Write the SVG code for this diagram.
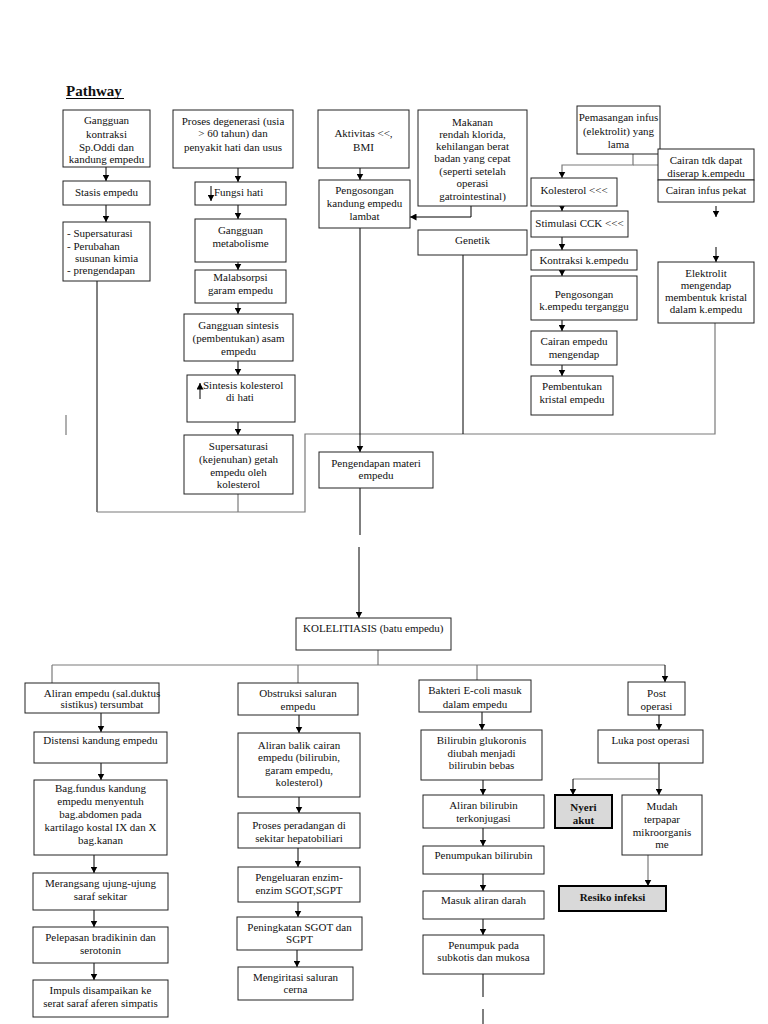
<svg xmlns="http://www.w3.org/2000/svg" width="768" height="1024" viewBox="0 0 768 1024">
<style>
  rect.b { fill: #fff; stroke: #222; stroke-width: 1; }
  rect.d { fill: #d9d9d9; stroke: #000; stroke-width: 2; }
  text { font-family: "Liberation Serif", "Times New Roman", serif; font-size: 11px; fill: #111; }
  text.c { text-anchor: middle; }
  text.bold { font-weight: bold; }
  .ln { fill: none; stroke: #000; stroke-width: 1; }
  .g { fill: none; stroke: #7a7a7a; stroke-width: 1.2; }
</style>
<defs>
  <marker id="ahs" markerUnits="userSpaceOnUse" markerWidth="7" markerHeight="7" refX="6.5" refY="3.5" orient="auto" viewBox="0 0 7 7">
    <path d="M0,0 L6.5,3.5 L0,7 Z" fill="#000"/>
  </marker>
</defs>
<rect width="768" height="1024" fill="#fff"/>

<g id="title">
  <text x="66" y="96" style="font-size:15px;font-weight:bold">Pathway</text>
  <line x1="66" y1="98.5" x2="124" y2="98.5" stroke="#000" stroke-width="1"/>
</g>

<g id="connectors">
  <line class="ln" x1="106" y1="167" x2="106" y2="181" marker-end="url(#ahs)"/>
  <line class="ln" x1="106" y1="205" x2="106" y2="222" marker-end="url(#ahs)"/>
  <path class="ln" d="M97,281 V512"/>
  <path class="g" d="M97,512 H305 V434 H715 V323"/>
  <line class="g" x1="238" y1="494" x2="238" y2="512"/>
  <line class="ln" x1="463" y1="255" x2="463" y2="434"/>
  <line class="g" x1="66" y1="415" x2="66" y2="435"/>
  <line class="ln" x1="238" y1="168" x2="238" y2="182" marker-end="url(#ahs)"/>
  <line class="ln" x1="238" y1="205" x2="238" y2="219" marker-end="url(#ahs)"/>
  <line class="ln" x1="238" y1="262" x2="238" y2="270" marker-end="url(#ahs)"/>
  <line class="ln" x1="238" y1="303" x2="238" y2="314" marker-end="url(#ahs)"/>
  <line class="ln" x1="238" y1="361" x2="238" y2="375" marker-end="url(#ahs)"/>
  <line class="ln" x1="238" y1="422" x2="238" y2="435" marker-end="url(#ahs)"/>
  <line class="ln" x1="360" y1="168" x2="360" y2="180" marker-end="url(#ahs)"/>
  <line class="ln" x1="360" y1="228" x2="360" y2="452" marker-end="url(#ahs)"/>
  <line class="ln" x1="360" y1="488" x2="360" y2="535"/>
  <line class="ln" x1="359" y1="547" x2="359" y2="618" marker-end="url(#ahs)"/>
  <path class="ln" d="M471,206 V217 H410" marker-end="url(#ahs)"/>
  <path class="g" d="M633,154 V165 H562 V178" marker-end="url(#ahs)"/>
  <path class="g" d="M633,165 H717 V177" marker-end="url(#ahs)"/>
  <line class="ln" x1="716" y1="206" x2="716" y2="217" marker-end="url(#ahs)"/>
  <line class="ln" x1="716" y1="247" x2="716" y2="262" marker-end="url(#ahs)"/>
  <line class="ln" x1="562" y1="206" x2="562" y2="211" marker-end="url(#ahs)"/>
  <line class="ln" x1="562" y1="237" x2="562" y2="250" marker-end="url(#ahs)"/>
  <line class="ln" x1="562" y1="270" x2="562" y2="276" marker-end="url(#ahs)"/>
  <line class="ln" x1="562" y1="320" x2="562" y2="331" marker-end="url(#ahs)"/>
  <line class="ln" x1="562" y1="365" x2="562" y2="376" marker-end="url(#ahs)"/>
  <line class="g" x1="378" y1="650" x2="378" y2="665"/>
  <path class="g" d="M52,665 H665"/>
  <line class="ln" x1="665" y1="665" x2="665" y2="682" marker-end="url(#ahs)"/>
  <line class="g" x1="52" y1="665" x2="52" y2="683"/>
  <line class="g" x1="298" y1="665" x2="298" y2="683"/>
  <line class="g" x1="477" y1="665" x2="477" y2="680"/>
  <line class="ln" x1="101" y1="713" x2="101" y2="732" marker-end="url(#ahs)"/>
  <line class="ln" x1="101" y1="763" x2="101" y2="780" marker-end="url(#ahs)"/>
  <line class="ln" x1="94" y1="855" x2="94" y2="873" marker-end="url(#ahs)"/>
  <line class="ln" x1="94" y1="910" x2="94" y2="927" marker-end="url(#ahs)"/>
  <line class="ln" x1="94" y1="963" x2="94" y2="980" marker-end="url(#ahs)"/>
  <line class="ln" x1="299" y1="715" x2="299" y2="733" marker-end="url(#ahs)"/>
  <line class="ln" x1="299" y1="797" x2="299" y2="813" marker-end="url(#ahs)"/>
  <line class="ln" x1="298" y1="848" x2="298" y2="867" marker-end="url(#ahs)"/>
  <line class="ln" x1="298" y1="902" x2="298" y2="917" marker-end="url(#ahs)"/>
  <line class="ln" x1="297" y1="950" x2="297" y2="967" marker-end="url(#ahs)"/>
  <line class="ln" x1="482" y1="712" x2="482" y2="730" marker-end="url(#ahs)"/>
  <line class="ln" x1="483" y1="780" x2="483" y2="795" marker-end="url(#ahs)"/>
  <line class="ln" x1="483" y1="828" x2="483" y2="846" marker-end="url(#ahs)"/>
  <line class="ln" x1="483" y1="874" x2="483" y2="891" marker-end="url(#ahs)"/>
  <line class="ln" x1="483" y1="919" x2="483" y2="935" marker-end="url(#ahs)"/>
  <line class="ln" x1="483" y1="974" x2="483" y2="997"/>
  <line class="ln" x1="483" y1="1009" x2="483" y2="1024"/>
  <line class="ln" x1="659" y1="715" x2="659" y2="730" marker-end="url(#ahs)"/>
  <line class="ln" x1="659" y1="763" x2="659" y2="795" marker-end="url(#ahs)"/>
  <path class="g" d="M659,779 H573"/>
  <line class="ln" x1="573" y1="779" x2="573" y2="795" marker-end="url(#ahs)"/>
  <line class="g" x1="648" y1="855" x2="648" y2="886" marker-end="url(#ahs)"/>
</g>

<g id="n-gangguan-kontraksi">
  <rect class="b" x="63" y="110" width="87" height="57"/>
  <text class="c"><tspan x="106.5" y="124">Gangguan</tspan><tspan x="106.5" y="138">kontraksi</tspan><tspan x="106.5" y="151">Sp.Oddi dan</tspan><tspan x="106.5" y="163">kandung empedu</tspan></text>
</g>
<g id="n-stasis">
  <rect class="b" x="63" y="181" width="87" height="24"/>
  <text class="c" x="106.5" y="196">Stasis empedu</text>
</g>
<g id="n-supersaturasi-list">
  <rect class="b" x="63" y="222" width="87" height="59"/>
  <text><tspan x="67" y="237">- Supersaturasi</tspan><tspan x="67" y="250">- Perubahan</tspan><tspan x="75" y="262">susunan kimia</tspan><tspan x="67" y="274">- prengendapan</tspan></text>
</g>

<g id="n-proses-degenerasi">
  <rect class="b" x="173" y="110" width="120" height="58"/>
  <text class="c"><tspan x="233" y="125">Proses degenerasi (usia</tspan><tspan x="233" y="137">&gt; 60 tahun) dan</tspan><tspan x="233" y="151">penyakit hati dan usus</tspan></text>
</g>
<g id="n-fungsi-hati">
  <rect class="b" x="195" y="182" width="91" height="23"/>
  <line class="ln" x1="211" y1="186" x2="211" y2="201" marker-end="url(#ahs)"/>
  <text x="214" y="196">Fungsi hati</text>
</g>
<g id="n-gangguan-metabolisme">
  <rect class="b" x="195" y="219" width="91" height="43"/>
  <text class="c"><tspan x="240.5" y="234">Gangguan</tspan><tspan x="240.5" y="247">metabolisme</tspan></text>
</g>
<g id="n-malabsorpsi">
  <rect class="b" x="195" y="270" width="91" height="33"/>
  <text class="c"><tspan x="240.5" y="281">Malabsorpsi</tspan><tspan x="240.5" y="294">garam empedu</tspan></text>
</g>
<g id="n-gangguan-sintesis">
  <rect class="b" x="184" y="314" width="109" height="47"/>
  <text class="c"><tspan x="238.5" y="329">Gangguan sintesis</tspan><tspan x="238.5" y="342">(pembentukan) asam</tspan><tspan x="238.5" y="355">empedu</tspan></text>
</g>
<g id="n-sintesis-kolesterol">
  <rect class="b" x="187" y="375" width="108" height="47"/>
  <line class="ln" x1="200" y1="399" x2="200" y2="383" marker-end="url(#ahs)"/>
  <text x="203" y="389">Sintesis kolesterol</text>
  <text class="c" x="240" y="401">di hati</text>
</g>
<g id="n-supersaturasi-kejenuhan">
  <rect class="b" x="184" y="435" width="109" height="59"/>
  <text class="c"><tspan x="238.5" y="450">Supersaturasi</tspan><tspan x="238.5" y="463">(kejenuhan) getah</tspan><tspan x="238.5" y="476">empedu oleh</tspan><tspan x="238.5" y="488">kolesterol</tspan></text>
</g>

<g id="n-aktivitas">
  <rect class="b" x="318" y="110" width="91" height="58"/>
  <text class="c"><tspan x="363.5" y="137">Aktivitas &lt;&lt;,</tspan><tspan x="363.5" y="151">BMI</tspan></text>
</g>
<g id="n-pengosongan-lambat">
  <rect class="b" x="319" y="180" width="91" height="48"/>
  <text class="c"><tspan x="364.5" y="194">Pengosongan</tspan><tspan x="364.5" y="207">kandung empedu</tspan><tspan x="364.5" y="220">lambat</tspan></text>
</g>
<g id="n-makanan">
  <rect class="b" x="418" y="110" width="109" height="96"/>
  <text class="c"><tspan x="472.5" y="126">Makanan</tspan><tspan x="472.5" y="138">rendah klorida,</tspan><tspan x="472.5" y="150">kehilangan berat</tspan><tspan x="472.5" y="162">badan yang cepat</tspan><tspan x="472.5" y="175">(seperti setelah</tspan><tspan x="472.5" y="187">operasi</tspan><tspan x="472.5" y="200">gatrointestinal)</tspan></text>
</g>
<g id="n-genetik">
  <rect class="b" x="418" y="230" width="109" height="25"/>
  <text class="c" x="472.5" y="244">Genetik</text>
</g>
<g id="n-pengendapan-materi">
  <rect class="b" x="319" y="452" width="114" height="36"/>
  <text class="c"><tspan x="376" y="467">Pengendapan materi</tspan><tspan x="376" y="479">empedu</tspan></text>
</g>

<g id="n-pemasangan-infus">
  <rect class="b" x="577" y="106" width="83" height="48"/>
  <text class="c"><tspan x="618.5" y="121">Pemasangan infus</tspan><tspan x="618.5" y="135">(elektrolit) yang</tspan><tspan x="618.5" y="148">lama</tspan></text>
</g>
<g id="n-cairan-tdk-dapat">
  <rect class="b" x="658" y="149" width="96" height="31"/>
  <text class="c"><tspan x="706" y="164">Cairan tdk dapat</tspan><tspan x="706" y="177">diserap k.empedu</tspan></text>
</g>
<g id="n-cairan-infus-pekat">
  <rect class="b" x="658" y="180" width="96" height="22"/>
  <text class="c" x="706" y="194">Cairan infus pekat</text>
</g>
<g id="n-elektrolit">
  <rect class="b" x="658" y="262" width="96" height="61"/>
  <text class="c"><tspan x="706" y="277">Elektrolit</tspan><tspan x="706" y="289">mengendap</tspan><tspan x="706" y="301">membentuk kristal</tspan><tspan x="706" y="313">dalam k.empedu</tspan></text>
</g>

<g id="n-kolesterol">
  <rect class="b" x="531" y="178" width="86" height="28"/>
  <text class="c" x="574" y="194">Kolesterol &lt;&lt;&lt;</text>
</g>
<g id="n-stimulasi-cck">
  <rect class="b" x="531" y="211" width="97" height="26"/>
  <text class="c" x="579.5" y="227">Stimulasi CCK &lt;&lt;&lt;</text>
</g>
<g id="n-kontraksi">
  <rect class="b" x="531" y="250" width="106" height="20"/>
  <text class="c" x="584" y="264">Kontraksi k.empedu</text>
</g>
<g id="n-pengosongan-terganggu">
  <rect class="b" x="531" y="276" width="106" height="44"/>
  <text class="c"><tspan x="584" y="298">Pengosongan</tspan><tspan x="584" y="310">k.empedu terganggu</tspan></text>
</g>
<g id="n-cairan-empedu">
  <rect class="b" x="531" y="331" width="86" height="34"/>
  <text class="c"><tspan x="574" y="345">Cairan empedu</tspan><tspan x="574" y="358">mengendap</tspan></text>
</g>
<g id="n-pembentukan-kristal">
  <rect class="b" x="531" y="376" width="82" height="39"/>
  <text class="c"><tspan x="572" y="390">Pembentukan</tspan><tspan x="572" y="403">kristal empedu</tspan></text>
</g>

<g id="n-kolelitiasis">
  <rect class="b" x="296" y="618" width="155" height="32"/>
  <text x="303" y="632">KOLELITIASIS (batu empedu)</text>
</g>

<g id="n-aliran-empedu">
  <rect class="b" x="25" y="683" width="134" height="30"/>
  <text class="c"><tspan x="102" y="697">Aliran empedu (sal.duktus</tspan><tspan x="102" y="708">sistikus) tersumbat</tspan></text>
</g>
<g id="n-distensi">
  <rect class="b" x="34" y="732" width="133" height="31"/>
  <text class="c" x="100.5" y="744">Distensi kandung empedu</text>
</g>
<g id="n-bag-fundus">
  <rect class="b" x="34" y="780" width="133" height="75"/>
  <text class="c"><tspan x="100.5" y="792">Bag.fundus kandung</tspan><tspan x="100.5" y="805">empedu menyentuh</tspan><tspan x="100.5" y="818">bag.abdomen pada</tspan><tspan x="100.5" y="831">kartilago kostal IX dan X</tspan><tspan x="100.5" y="844">bag.kanan</tspan></text>
</g>
<g id="n-merangsang">
  <rect class="b" x="33" y="873" width="135" height="37"/>
  <text class="c"><tspan x="100.5" y="887">Merangsang ujung-ujung</tspan><tspan x="100.5" y="900">saraf sekitar</tspan></text>
</g>
<g id="n-pelepasan">
  <rect class="b" x="33" y="927" width="135" height="36"/>
  <text class="c"><tspan x="100.5" y="941">Pelepasan bradikinin dan</tspan><tspan x="100.5" y="954">serotonin</tspan></text>
</g>
<g id="n-impuls">
  <rect class="b" x="33" y="980" width="135" height="37"/>
  <text class="c"><tspan x="100.5" y="994">Impuls disampaikan ke</tspan><tspan x="100.5" y="1007">serat saraf aferen simpatis</tspan></text>
</g>

<g id="n-obstruksi">
  <rect class="b" x="238" y="683" width="120" height="32"/>
  <text class="c"><tspan x="298" y="697">Obstruksi saluran</tspan><tspan x="298" y="710">empedu</tspan></text>
</g>
<g id="n-aliran-balik">
  <rect class="b" x="238" y="733" width="122" height="64"/>
  <text class="c"><tspan x="299" y="749">Aliran balik cairan</tspan><tspan x="299" y="761">empedu (bilirubin,</tspan><tspan x="299" y="774">garam empedu,</tspan><tspan x="299" y="786">kolesterol)</tspan></text>
</g>
<g id="n-proses-peradangan">
  <rect class="b" x="238" y="813" width="122" height="35"/>
  <text class="c"><tspan x="299" y="829">Proses peradangan di</tspan><tspan x="299" y="842">sekitar hepatobiliari</tspan></text>
</g>
<g id="n-pengeluaran">
  <rect class="b" x="238" y="867" width="122" height="35"/>
  <text class="c"><tspan x="299" y="881">Pengeluaran enzim-</tspan><tspan x="299" y="894">enzim SGOT,SGPT</tspan></text>
</g>
<g id="n-peningkatan">
  <rect class="b" x="237" y="917" width="125" height="33"/>
  <text class="c"><tspan x="299.5" y="931">Peningkatan SGOT dan</tspan><tspan x="299.5" y="943">SGPT</tspan></text>
</g>
<g id="n-mengiritasi">
  <rect class="b" x="238" y="967" width="115" height="33"/>
  <text class="c"><tspan x="295.5" y="981">Mengiritasi saluran</tspan><tspan x="295.5" y="993">cerna</tspan></text>
</g>

<g id="n-bakteri">
  <rect class="b" x="419" y="680" width="112" height="32"/>
  <text class="c"><tspan x="475" y="694">Bakteri E-coli masuk</tspan><tspan x="475" y="708">dalam empedu</tspan></text>
</g>
<g id="n-bilirubin-glukoronis">
  <rect class="b" x="421" y="730" width="121" height="50"/>
  <text class="c"><tspan x="481.5" y="744">Bilirubin glukoronis</tspan><tspan x="481.5" y="757">diubah menjadi</tspan><tspan x="481.5" y="769">bilirubin bebas</tspan></text>
</g>
<g id="n-aliran-bilirubin">
  <rect class="b" x="423" y="795" width="121" height="33"/>
  <text class="c"><tspan x="483.5" y="809">Aliran bilirubin</tspan><tspan x="483.5" y="822">terkonjugasi</tspan></text>
</g>
<g id="n-penumpukan-bilirubin">
  <rect class="b" x="423" y="846" width="121" height="28"/>
  <text class="c" x="483.5" y="859">Penumpukan bilirubin</text>
</g>
<g id="n-masuk-aliran-darah">
  <rect class="b" x="423" y="891" width="121" height="28"/>
  <text class="c" x="483.5" y="904">Masuk aliran darah</text>
</g>
<g id="n-penumpuk-subkotis">
  <rect class="b" x="423" y="935" width="121" height="39"/>
  <text class="c"><tspan x="483.5" y="949">Penumpuk pada</tspan><tspan x="483.5" y="961">subkotis dan mukosa</tspan></text>
</g>

<g id="n-post-operasi">
  <rect class="b" x="628" y="682" width="57" height="33"/>
  <text class="c"><tspan x="656.5" y="697">Post</tspan><tspan x="656.5" y="710">operasi</tspan></text>
</g>
<g id="n-luka">
  <rect class="b" x="598" y="730" width="105" height="33"/>
  <text class="c" x="650.5" y="744">Luka post operasi</text>
</g>
<g id="n-nyeri-akut">
  <rect class="d" x="555" y="795" width="57" height="33"/>
  <text class="c bold"><tspan x="583.5" y="811">Nyeri</tspan><tspan x="583.5" y="824">akut</tspan></text>
</g>
<g id="n-mudah-terpapar">
  <rect class="b" x="622" y="795" width="80" height="60"/>
  <text class="c"><tspan x="662" y="810">Mudah</tspan><tspan x="662" y="823">terpapar</tspan><tspan x="662" y="836">mikroorganis</tspan><tspan x="662" y="848">me</tspan></text>
</g>
<g id="n-resiko-infeksi">
  <rect class="d" x="559" y="886" width="107" height="25"/>
  <text class="c bold" x="612.5" y="901">Resiko infeksi</text>
</g>
</svg>
